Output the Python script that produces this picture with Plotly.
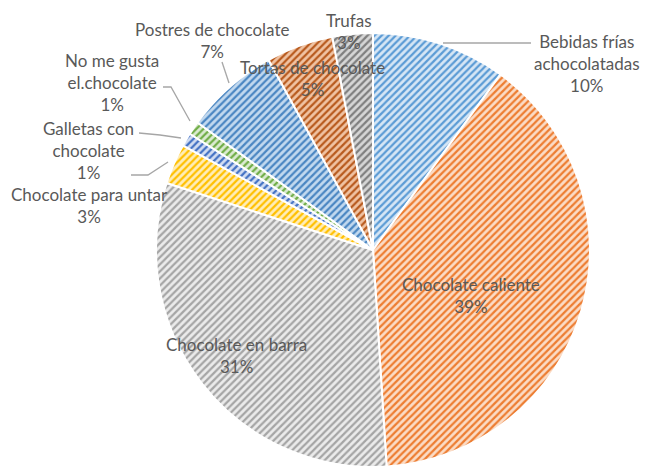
import plotly.graph_objects as go

# Preferred uses of chocolate (share of respondents, %)
categories = [
    "Bebidas frías achocolatadas",
    "Chocolate caliente",
    "Chocolate en barra",
    "Chocolate para untar",
    "Galletas con chocolate",
    "No me gusta el.chocolate",
    "Postres de chocolate",
    "Tortas de chocolate",
    "Trufas",
]
shares = [10, 39, 31, 3, 1, 1, 7, 5, 3]

# How each category name is wrapped in its label
wrapped_names = [
    "Bebidas frías<br>achocolatadas",
    "Chocolate caliente",
    "Chocolate en barra",
    "Chocolate para untar",
    "Galletas con<br>chocolate",
    "No me gusta<br>el.chocolate",
    "Postres de chocolate",
    "Tortas de chocolate",
    "Trufas",
]

stripe_colors = ["#5B9BD5", "#ED7D31", "#A5A5A5", "#FFC000", "#4472C4",
                 "#70AD47", "#4A86C2", "#B85A1E", "#7F7F7F"]
tint_colors = ["#D6E6F5", "#FBDCC6", "#EBEBEB", "#FFEDB8", "#D3DEF2",
               "#DCEBD2", "#C2D9EF", "#F0C3A3", "#D6D6D6"]

W, H = 645, 470
TEXT = "#595959"
FONT = "Lato"

fig = go.Figure(go.Pie(
    labels=categories,
    values=shares,
    sort=False,
    direction="clockwise",
    rotation=0,
    textinfo="none",
    hoverinfo="label+percent",
    showlegend=False,
    domain=dict(x=[156 / W, 590 / W], y=[1 - 467 / H, 1 - 33 / H]),
    marker=dict(
        colors=stripe_colors,
        line=dict(color="white", width=2),
        pattern=dict(shape="/", fillmode="replace", size=5, solidity=0.45,
                     fgcolor=stripe_colors, bgcolor=tint_colors),
    ),
))

# label anchor points (pixels from top-left) for each category
label_pos = [
    (587, 64), (471, 295), (236, 355), (89, 205), (88, 151),
    (112, 82), (212, 40), (312, 79), (349, 31),
]

annotations = []
for name, share, (px, py) in zip(wrapped_names, shares, label_pos):
    annotations.append(dict(
        x=px / W, y=1 - py / H, xref="paper", yref="paper",
        text=f"{name}<br>{share}%", showarrow=False,
        xanchor="center", yanchor="middle", align="center",
        font=dict(family=FONT, size=17, color=TEXT),
    ))

# leader lines joining outer labels to their slices
leaders = [
    [(443, 43), (531, 43)],
    [(163, 87), (171, 87), (190, 121)],
    [(139, 133), (160, 135), (181, 138)],
    [(131, 175), (148, 175), (168, 162)],
    [(222, 62), (229, 83)],
]
shapes = []
for pts in leaders:
    path = "M " + " L ".join(f"{x / W:.5f},{1 - y / H:.5f}" for x, y in pts)
    shapes.append(dict(type="path", path=path, xref="paper", yref="paper",
                       line=dict(color="#A6A6A6", width=1.3)))

fig.update_layout(
    width=W, height=H,
    margin=dict(l=0, r=0, t=0, b=0),
    paper_bgcolor="white",
    plot_bgcolor="white",
    annotations=annotations,
    shapes=shapes,
    font=dict(family=FONT, color=TEXT),
)

fig.write_html("out.html")
